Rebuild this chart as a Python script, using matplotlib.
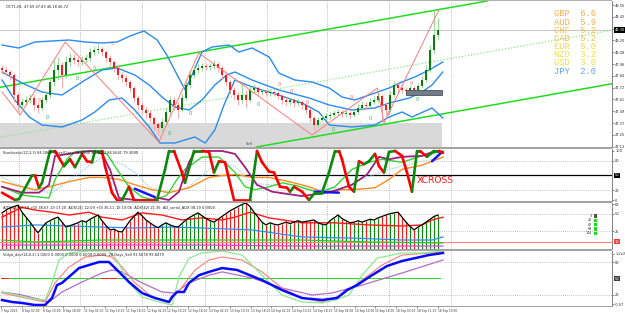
import numpy as np
import matplotlib
matplotlib.use('Agg')
import matplotlib.pyplot as plt
from matplotlib.patches import Rectangle
from matplotlib.collections import LineCollection
import matplotlib.transforms as mtransforms

# ---------------- DATA ----------------
first_open = 47.92
closes = [47.90, 47.88, 47.85, 47.65, 47.55, 47.58, 47.60, 47.62, 47.55, 47.52,
          47.60, 47.65, 47.78, 47.90, 47.95, 47.85, 47.98, 48.02, 48.00, 47.98,
          48.00, 48.02, 48.08, 48.10, 48.11, 48.08, 48.02, 47.98, 47.92, 47.85,
          47.82, 47.78, 47.72, 47.62, 47.55, 47.50, 47.47, 47.42, 47.36, 47.32,
          47.38, 47.48, 47.60, 47.55, 47.50, 47.62, 47.75, 47.85, 47.90, 47.92,
          47.94, 47.93, 47.94, 47.96, 47.92, 47.85, 47.78, 47.70, 47.65, 47.60,
          47.65, 47.60, 47.70, 47.72, 47.68, 47.68, 47.67, 47.68, 47.67, 47.64,
          47.60, 47.58, 47.60, 47.57, 47.58, 47.55, 47.50, 47.42, 47.35, 47.40,
          47.42, 47.44, 47.45, 47.47, 47.48, 47.46, 47.47, 47.45, 47.48, 47.52,
          47.55, 47.54, 47.58, 47.60, 47.64, 47.55, 47.50, 47.65, 47.75, 47.72,
          47.70, 47.69, 47.72, 47.70, 47.74, 47.80, 47.90, 48.10, 48.25, 48.30]
highs = [47.95, 47.93, 47.90, 47.87, 47.68, 47.62, 47.64, 47.66, 47.65, 47.58,
         47.63, 47.69, 47.82, 48.00, 48.03, 47.98, 48.04, 48.07, 48.06, 48.03,
         48.04, 48.06, 48.12, 48.14, 48.16, 48.13, 48.10, 48.05, 48.00, 47.95,
         47.88, 47.85, 47.80, 47.74, 47.65, 47.58, 47.53, 47.50, 47.44, 47.38,
         47.42, 47.52, 47.64, 47.63, 47.58, 47.66, 47.79, 47.89, 47.94, 47.96,
         47.97, 47.97, 47.97, 48.00, 47.98, 47.94, 47.87, 47.80, 47.73, 47.68,
         47.78, 47.70, 47.74, 47.76, 47.74, 47.71, 47.71, 47.71, 47.70, 47.69,
         47.66, 47.63, 47.63, 47.62, 47.61, 47.60, 47.57, 47.52, 47.44, 47.43,
         47.45, 47.47, 47.48, 47.50, 47.51, 47.50, 47.50, 47.49, 47.51, 47.56,
         47.59, 47.58, 47.62, 47.64, 47.68, 47.66, 47.58, 47.69, 47.79, 47.77,
         47.74, 47.73, 47.75, 47.74, 47.77, 47.84, 47.95, 48.15, 48.50, 48.42]
lows = [47.86, 47.84, 47.80, 47.58, 47.48, 47.51, 47.55, 47.57, 47.50, 47.47,
        47.50, 47.57, 47.62, 47.74, 47.80, 47.72, 47.82, 47.94, 47.96, 47.94,
        47.95, 47.97, 47.99, 48.05, 48.06, 48.04, 47.98, 47.94, 47.88, 47.81,
        47.78, 47.74, 47.68, 47.58, 47.50, 47.46, 47.42, 47.38, 47.30, 47.25,
        47.29, 47.35, 47.45, 47.50, 47.42, 47.48, 47.60, 47.72, 47.82, 47.87,
        47.89, 47.90, 47.90, 47.91, 47.88, 47.81, 47.74, 47.66, 47.60, 47.55,
        47.57, 47.52, 47.58, 47.67, 47.64, 47.65, 47.64, 47.64, 47.64, 47.61,
        47.56, 47.54, 47.55, 47.53, 47.54, 47.51, 47.46, 47.38, 47.30, 47.33,
        47.38, 47.40, 47.41, 47.43, 47.44, 47.43, 47.43, 47.42, 47.43, 47.46,
        47.50, 47.51, 47.52, 47.56, 47.58, 47.38, 47.45, 47.48, 47.63, 47.68,
        47.67, 47.66, 47.66, 47.67, 47.68, 47.72, 47.78, 47.88, 48.06, 48.20]

# Bollinger bands (time in bars, price)
bb_up_t = [0, 4.2, 8.2, 12.5, 16.8, 20.8, 25, 28.8, 32, 35.5, 38.8, 41.2, 43.8, 45.8, 47.5, 50,
           52.5, 56.8, 59.2, 62.5, 66.8, 69.2, 73.2, 77.5, 81.8, 85, 88.2, 91.8, 96.8, 100,
           103.2, 106.8, 110.2]
bb_up = [48.15, 48.12, 48.18, 48.19, 48.20, 48.18, 48.17, 48.18, 48.24, 48.29, 48.20, 48.05,
         47.85, 47.70, 47.85, 48.08, 48.13, 48.15, 48.08, 48.12, 48.03, 47.87, 47.80, 47.78,
         47.72, 47.63, 47.60, 47.65, 47.72, 47.78, 47.83, 47.90, 47.98]
bb_mid_t = [0, 5, 10, 15, 20.8, 25, 28.8, 33.2, 36.8, 40, 43.2, 46.8, 50, 53.2, 56.2, 58.2,
            62.5, 69.2, 76.8, 81.8, 87.5, 93.2, 96.8, 101.8, 105, 107.5, 110.2]
bb_mid = [47.88, 47.77, 47.68, 47.65, 47.80, 47.90, 47.92, 47.85, 47.75, 47.63, 47.53, 47.50,
          47.60, 47.75, 47.85, 47.88, 47.80, 47.70, 47.62, 47.55, 47.50, 47.52, 47.57, 47.62,
          47.68, 47.75, 47.88]
bb_lo_t = [0, 3.2, 6.8, 10, 15, 20, 23.2, 26.8, 30, 33.2, 36.8, 39.5, 43.2, 48.2, 50.8, 53.2,
           55.5, 58.2, 61.2, 65, 69.2, 75, 79.2, 81.8, 87.5, 93.2, 96.8, 100, 102.5, 107.5, 110.2]
bb_lo = [47.80, 47.60, 47.43, 47.35, 47.33, 47.40, 47.48, 47.60, 47.62, 47.50, 47.33, 47.17,
         47.17, 47.23, 47.17, 47.30, 47.55, 47.80, 47.75, 47.70, 47.65, 47.57, 47.48, 47.35,
         47.33, 47.35, 47.43, 47.48, 47.43, 47.52, 47.42]

# zigzag
zz_t = [0, 4.5, 15.8, 39.2, 49.2, 77.5, 93.8, 95.5, 109.2]
zz_p = [47.68, 47.45, 48.18, 47.18, 48.07, 47.25, 47.72, 47.37, 48.50]

# channel anchors (time, price)
chan_up = [(0, 47.73), (110, 48.51)]
chan_lo = [(65, 47.14), (110, 47.46)]
chan_mid = [(0, 47.23), (110, 48.00)]

zone_lo, zone_hi, zone_end = 47.13, 47.37, 110
box_t0, box_t1, box_lo, box_hi = 101, 110, 47.65, 47.70
bid_price = 48.30

fract_g_t = [11.2, 18.8, 23, 41.8, 47, 64, 82.8, 92, 96.5, 103.8]
fract_g_p = [47.43, 47.82, 47.92, 47.27, 47.47, 47.56, 47.31, 47.42, 47.47, 47.61]
fract_r_t = [9.2, 27.5, 69.2, 72.2, 76.2, 87.2, 102.2]
fract_r_p = [47.60, 48.17, 47.76, 47.69, 47.58, 47.63, 47.77]

currencies = ['GBP', 'AUD', 'CHF', 'CAD', 'EUR', 'NZD', 'USD', 'JPY']
strength = [6.6, 5.9, 5.2, 5.2, 5.0, 3.2, 3.0, 2.0]

# Stochastic pane
st_t = [0, 3.25, 4.25, 7.5, 8.25, 9.25, 10, 12, 13.25, 15.5, 17, 18.25, 20, 21.25, 22.5, 23.25,
        25, 25.75, 27.5, 28.75, 30, 31.75, 33, 35, 36.75, 38.75, 40.75, 41.75, 43, 45, 45.75,
        48, 50, 51.75, 53, 54.25, 55.75, 58, 60.75, 62, 63.75, 65, 66.75, 68, 69.5, 71.25, 72,
        73, 75, 76.75, 78.25, 80, 81.75, 83.25, 84.25, 85, 86.75, 88, 89.25, 90.5, 91.75,
        93.25, 94.25, 95.5, 96.75, 98.25, 100, 101.25, 102.5, 103.75, 104.5, 106.25, 108,
        109.25, 110.25]
st_main = [15, 0, 2, 50, 50, 25, 35, 100, 100, 69, 83, 67, 94, 79, 77, 100, 100, 69, 15, 0, 0,
           27, 0, 0, 0, 0, 62, 100, 100, 56, 35, 100, 100, 98, 56, 79, 77, 0, 0, 0, 100, 77, 58,
           56, 27, 25, 17, 27, 17, 0, 15, 15, 56, 100, 100, 83, 27, 17, 79, 73, 79, 94, 69, 56,
           98, 100, 90, 56, 17, 100, 100, 88, 100, 100, 96]
mag_t = [0, 5, 9.25, 11.75, 13.25, 16.75, 20, 22.5, 25, 27, 29.25, 33.25, 37.5, 39.25, 41.75,
         44.25, 46.75, 48.25, 51.75, 55, 58.25, 60.75, 63.75, 67.5, 75, 82.5, 87.5, 91.25,
         94.25, 96.75, 100, 105, 108.25, 110.25]
mag_v = [27, 15, 15, 31, 90, 94, 98, 100, 94, 62, 4, 0, 0, 4, 0, 17, 77, 98, 100, 100, 94, 67,
         31, 17, 8, 17, 31, 52, 88, 83, 88, 90, 100, 98]
blue_seg_t = [[33.2, 38.2], [78.2, 84.2], [107.5, 110]]
blue_seg_v = [[23, 6], [17, 15], [79, 98]]
orn_t = [0, 5, 8.25, 11.75, 16.75, 21.75, 25, 29.25, 33.25, 37.5, 41.75, 46.75, 51.75, 55,
         58.75, 62.5, 66.75, 71.75, 76.75, 80, 85, 87.5, 93.25, 96.75, 100, 105, 107.5, 110.25]
orn_v = [37.5, 27, 21, 27, 37.5, 46, 46, 42, 31, 21, 15, 25, 46, 50, 52, 46, 46, 37.5, 27, 17,
         21, 21, 25, 42, 62.5, 71, 79, 87.5]
grn_t = [0, 5, 11.75, 13.25, 16.25, 18.25, 20, 23.25, 26.25, 28.75, 31.75, 35, 38.25, 41.25,
         43.75, 45.75, 50, 54.25, 58.25, 60.75, 63.25, 66.75, 70, 73.75, 76.75, 79.25, 83.25,
         87.5, 91.75, 95, 100, 105, 110.25]
grn_v = [27, 10, 4, 42, 83.6, 98, 100, 100, 94, 62.5, 27, 6, 0, 10, 42, 62.5, 87.5, 87.5, 56,
         27, 21, 27, 35, 29, 21, 15, 27, 62.5, 77, 83, 77, 90, 100]
lb_t = [0, 6.75, 12.5, 18.75, 25, 30, 33.25, 36.75, 41.75, 46.75, 51.75, 55, 58.25, 62.5,
        70.75, 79.25, 85, 91.75, 96.75, 105, 110.25]
lb_v = [46, 21, 15, 52, 87.5, 73, 56, 27, 15, 27, 62.5, 77, 69, 35, 27, 21, 25, 48, 62.5, 79,
        87.5]

# ADX pane
hist = [51, 55, 58, 60, 62, 52, 45, 38, 30, 23, 30, 37, 40, 43, 45, 38, 31, 33, 35, 37,
        40, 38, 42, 45, 48, 40, 33, 27, 28, 25, 24, 32, 40, 46, 52, 47, 41, 37, 33, 30,
        34, 37, 34, 32, 31, 36, 41, 45, 48, 51, 47, 43, 40, 38, 42, 46, 50, 54, 57, 60,
        63, 65, 60, 52, 45, 38, 34, 37, 35, 34, 36, 38, 36, 38, 40, 38, 39, 40, 41, 37,
        35, 34, 40, 44, 48, 43, 40, 37, 38, 40, 38, 40, 42, 41, 44, 46, 48, 50, 51, 52,
        45, 38, 32, 27, 31, 34, 38, 42, 46, 48]
adx_red_t = [0, 2.5, 5, 8.25, 12.5, 16.75, 21.75, 25, 30, 35, 40, 45, 50, 55, 58.25, 62,
             66.75, 75, 83.25, 91.75, 100, 105, 107.5, 110.25]
adx_red = [45, 52, 59, 55, 52, 48, 52, 45, 41, 51, 48, 41, 44, 41, 45, 52, 44, 37, 37, 34,
           32.5, 34, 41, 45]
adx_blue_t = [0, 8.25, 16.75, 25, 33.25, 41.75, 50, 62.5, 75, 87.5, 100, 107.5, 110.25]
adx_blue = [31, 34, 32.5, 31, 29.7, 31, 29.7, 27, 17, 15.5, 12.7, 12.7, 17]
adx_grn_t = [0, 8.25, 25, 41.75, 55, 75, 91.75, 110.25]
adx_grn = [12.7, 9.9, 12.7, 12.7, 12.7, 12.7, 9.9, 8.5]
adx_mag_t = [0, 50, 75, 110.25]
adx_mag = [5.6, 5.6, 4.2, 4.2]
adx_level = 10
adx_legend = ['3', '21', '42', '89', '144']

# Oscillator pane
os_blue_t = [0, 2.5, 5, 8.25, 10.75, 12.5, 13.75, 15, 16.75, 19.25, 21.75, 24.25, 26.75, 28,
             29.25, 31.75, 35, 38.25, 41.75, 42.5, 43.75, 45.5, 46.75, 49.25, 51.75, 55, 58.75,
             65, 70, 75, 80, 83.75, 86.25, 88.75, 92.5, 96.25, 100, 103.25, 106.75, 110.25]
os_blue = [10.9, 7.3, 5.5, 1.8, 1.8, 14.5, 38, 42, 53, 69, 74.5, 80, 80, 71, 62, 43.6, 23.6,
           14.5, 7.3, 16.4, 25.5, 25.5, 42, 56, 62, 69, 65.5, 47, 29, 14.5, 10.9, 14.5, 29, 38,
           56, 72.7, 81.8, 87, 92.7, 96.4]
os_lg_t = [0, 8.25, 10.75, 12.5, 14.25, 16.75, 21.75, 26.75, 28.75, 31.75, 35, 39.25, 42.5,
           44.25, 46.75, 50, 55, 60, 65, 70, 75, 80, 83.25, 86.75, 90, 93.75, 100, 105, 110.25]
os_lg = [25.5, 12.7, 10.9, 42, 83.6, 96.4, 100, 100, 83.6, 42, 16.4, 7.3, 1.8, 53, 87, 96.4,
         100, 92.7, 56, 20, 7.3, 5.5, 10.9, 20, 56, 87, 96.4, 96.4, 100]
os_lr_t = [0, 10.75, 13.25, 16.75, 20.75, 25, 27.5, 30, 33.25, 37.5, 41.75, 45, 48.25, 51.75,
           55, 60, 65, 70, 75, 80, 85, 90, 95, 100, 110.25]
os_lr = [23.6, 7.3, 42, 71, 89, 92.7, 89, 71, 42, 16.4, 7.3, 34.5, 65.5, 83.6, 89, 83.6, 62,
         32.7, 14.5, 7.3, 20, 47, 74.5, 92.7, 98]
os_pur_t = [0, 5, 10, 11.75, 15, 20, 25, 27.5, 30, 35, 40, 43.25, 46.75, 51.75, 55, 62.5, 70,
            77.5, 82.5, 90, 100, 110.25]
os_pur = [25.5, 20, 10.9, 7.3, 25.5, 43.6, 60, 65.5, 62, 42, 25.5, 23.6, 42, 56, 62, 51, 32.7,
          20, 23.6, 38, 60, 83.6]
os_signal_level = 50
os_signal_red = [0, 1, 25, 26, 27, 28]

time_labels = ['7 Sep 2023', '8 Sep 02:00', '8 Sep 10:00', '8 Sep 18:00', '11 Sep 02:00',
               '11 Sep 10:00', '11 Sep 18:00', '12 Sep 02:00', '12 Sep 10:00', '12 Sep 18:00',
               '13 Sep 02:00', '13 Sep 10:00', '13 Sep 18:00', '14 Sep 02:00', '14 Sep 10:00',
               '14 Sep 18:00', '15 Sep 02:00', '15 Sep 10:00', '15 Sep 18:00', '18 Sep 03:00',
               '18 Sep 11:00', '18 Sep 19:00']

# ---------------- FIGURE ----------------
W, H = 625, 313
fig = plt.figure(figsize=(6.25, 3.13), dpi=100)
fig.patch.set_facecolor('white')
XR = 612


def px_axes(y0, y1):
    return fig.add_axes([0, 1 - y1 / H, XR / W, (y1 - y0) / H])


ax1 = px_axes(1, 147)
ax2 = px_axes(149, 201)
ax3 = px_axes(203, 249)
ax4 = px_axes(251, 306)
axes = [ax1, ax2, ax3, ax4]

TS = 2.6
grid_t = [4.25, 19.5, 35, 50.75, 66.25, 81.25, 96.75, 112.25]
for ax in axes:
    ax.set_xlim(-0.5, 152.5)
    for s in ['top', 'left', 'bottom']:
        ax.spines[s].set_visible(False)
    ax.spines['right'].set_color('#707070')
    ax.spines['right'].set_linewidth(0.6)
    ax.yaxis.tick_right()
    ax.tick_params(axis='y', length=1.5, width=0.4, pad=0.8, labelsize=TS, colors='#303030')
    ax.tick_params(axis='x', bottom=False, labelbottom=False)
    for g in grid_t:
        ax.axvline(g, color='#a8a8a8', lw=0.6, ls=(0, (1, 1.5)), zorder=0)

# separators
for (a, b) in [(147, 149), (201, 203), (249, 251)]:
    fig.add_artist(Rectangle((0, 1 - b / H), XR / W, (b - a) / H, transform=fig.transFigure,
                             facecolor='#a4a4a4', edgecolor='none'))
fig.add_artist(Rectangle((0, 1 - 1 / H), XR / W, 1 / H, transform=fig.transFigure,
                         facecolor='#b0b0b0', edgecolor='none'))


def box_label(ax, y, txt, fc, tc='white'):
    tr = mtransforms.blended_transform_factory(ax.transAxes, ax.transData)
    ax.text(1.004, y, txt, transform=tr, ha='left', va='center', fontsize=TS, color=tc,
            bbox=dict(boxstyle='square,pad=0.15', fc=fc, ec='none'), zorder=10)


# ---- price pane ----
ax1.set_ylim(47.13, 48.59)
t = np.arange(len(closes))
c = np.array(closes)
o = np.array([first_open] + closes[:-1])
hi = np.array(highs)
lo = np.array(lows)
up = c >= o
ax1.fill_between([-0.5, zone_end], zone_lo, zone_hi, color='#d9d9d9', lw=0, zorder=0.5)
ax1.axhline(bid_price, color='#bdbdbd', lw=0.6, zorder=0.6)
ax1.axline(chan_up[0], chan_up[1], color='#1fdc1f', lw=1.1, zorder=2)
ax1.axline(chan_lo[0], chan_lo[1], color='#1fdc1f', lw=1.1, zorder=2)
ax1.axline(chan_mid[0], chan_mid[1], color='#8be98b', lw=0.9, ls=(0, (1, 1.5)), zorder=2)
for bt, bv in [(bb_up_t, bb_up), (bb_mid_t, bb_mid), (bb_lo_t, bb_lo)]:
    ax1.plot(bt, bv, color='#2a8cf0', lw=1.0, zorder=2.2)
ax1.vlines(t[up], lo[up], hi[up], color='#86d486', lw=0.6, zorder=3)
ax1.vlines(t[~up], lo[~up], hi[~up], color='#ff9a9a', lw=0.6, zorder=3)
body_h = np.maximum(np.abs(c - o), 0.006)
ax1.bar(t[up], body_h[up], bottom=np.minimum(o, c)[up], width=0.55, color='#0a7d0a', zorder=3.2)
ax1.bar(t[~up], body_h[~up], bottom=np.minimum(o, c)[~up], width=0.55, color='#ff1a1a', zorder=3.2)
ax1.plot(zz_t, zz_p, color='#ff7b7b', lw=0.7, zorder=4)
ax1.add_patch(Rectangle((box_t0, box_lo), box_t1 - box_t0, box_hi - box_lo, facecolor='#6e7e8e',
                        edgecolor='#3c3c3c', lw=0.5, zorder=4))
for ft, fp in zip(fract_g_t, fract_g_p):
    ax1.text(ft, fp, '0', fontsize=3.6, color='#3cae5a', ha='center', va='center', zorder=5)
for ft, fp in zip(fract_r_t, fract_r_p):
    ax1.text(ft, fp, '0', fontsize=3.6, color='#ff6a6a', ha='center', va='center', zorder=5)
ax1.text(61.8, 47.16, 'Sell', fontsize=2.6, color='#404040', ha='center', va='center', zorder=5)
pticks = [48.55 - 0.118 * k for k in range(13)]
ax1.set_yticks(pticks)
ax1.set_yticklabels([f'{v:.2f}' for v in pticks])
box_label(ax1, bid_price, f'{bid_price:.2f}', 'black')
ax1.text(0.01, 0.975, 'OCT1,H1  47.69 47.83 46.18 46.72', transform=ax1.transAxes,
         fontsize=2.6, color='#202020', va='top', ha='left', zorder=6)

cur_cols = ['#f4ae52', '#f4ae52', '#f3c045', '#f3c045', '#f2d840', '#f2df45', '#f2df45', '#5aa6f2']
for k, (cn, sv) in enumerate(zip(currencies, strength)):
    fig.text(554 / W, 1 - (14 + 8.15 * k) / H, f'{cn}  {sv:.1f}', fontsize=6.3,
             family='Liberation Mono', color=cur_cols[k], va='center', ha='left')

# ---- stochastic pane ----
ax2.set_ylim(-2, 104)
ax2.axhline(80, color='#b0b0b0', lw=0.6, ls=(0, (1, 1.5)), zorder=0)
ax2.axhline(20, color='#b0b0b0', lw=0.6, ls=(0, (1, 1.5)), zorder=0)
ax2.axhline(50, color='black', lw=0.9, zorder=1)
ax2.plot(lb_t, lb_v, color='#9fd0f5', lw=0.9, ls=(0, (1, 1)), zorder=1.5)
ax2.plot(orn_t, orn_v, color='#ff8c1a', lw=1.0, zorder=2)
ax2.plot(grn_t, grn_v, color='#33d633', lw=1.0, zorder=2)
ax2.plot(mag_t, mag_v, color='#a0207a', lw=1.3, zorder=2.2)
for bt, bv in zip(blue_seg_t, blue_seg_v):
    ax2.plot(bt, bv, color='#1414ff', lw=1.8, zorder=2.4, solid_capstyle='round')
segs, cols = [], []
prev = '#0a8a0a'
for k in range(len(st_t) - 1):
    segs.append([(st_t[k], st_main[k]), (st_t[k + 1], st_main[k + 1])])
    d = st_main[k + 1] - st_main[k]
    if d > 0:
        prev = '#0a8a0a'
    elif d < 0:
        prev = '#ff0000'
    cols.append(prev)
ax2.add_collection(LineCollection(segs, colors=cols, linewidths=1.9, capstyle='round',
                                  joinstyle='round', zorder=3))
ax2.text(103.75, 39.6, 'XCROSS', color='#ff1a1a', fontsize=6.6, ha='left', va='center', zorder=5)
ax2.set_yticks([100, 80, 20, 0])
ax2.set_yticklabels(['100', '80', '20', '0'])
box_label(ax2, 50, '50', 'black')
ax2.text(0.005, 0.955, 'Stochastic(22,3,3) 84.1864 Close/Close 74.0000 80.1022 86.5641 79.3080',
         transform=ax2.transAxes, fontsize=2.6, color='#202020', va='top', ha='left', zorder=6)

# ---- ADX pane ----
ax3.set_ylim(0, 65)
ax3.axhline(50, color='#b0b0b0', lw=0.6, ls=(0, (1, 1.5)), zorder=0)
ax3.axhline(25, color='#b0b0b0', lw=0.6, ls=(0, (1, 1.5)), zorder=0)
hv = np.array(hist)
ax3.vlines(t[up], 0, hv[up], color='#0a8a0a', lw=0.8, zorder=1)
ax3.vlines(t[~up], 0, hv[~up], color='#ff1a1a', lw=0.8, zorder=1)
ax3.axhline(adx_level, color='#ff8080', lw=0.8, zorder=1.5)
ax3.plot(adx_mag_t, adx_mag, color='#e040e0', lw=0.9, zorder=2)
ax3.plot(adx_grn_t, adx_grn, color='#22cc22', lw=0.9, zorder=2)
ax3.plot(adx_blue_t, adx_blue, color='#2a8cf0', lw=0.9, zorder=2)
ax3.plot(adx_red_t, adx_red, color='#ff1a1a', lw=1.0, zorder=2.2)
ax3.plot(t, hv, color='black', lw=0.9, zorder=2.5)
ax3.set_yticks([63, 50, 25])
ax3.set_yticklabels(['63', '50', '25'])
box_label(ax3, adx_level, '10', '#ff3a3a')
ax3.text(0.005, 0.95, 'ADX(14) 26.18 +DI 38.67 -DI 17.20  ADX(21) 22.09 +DI 35.11 -DI 19.06  '
         'ADX(42) 21.35  AD_serial_ADX 38.19 0.0000',
         transform=ax3.transAxes, fontsize=2.6, color='#202020', va='top', ha='left', zorder=6)
for k, lab in enumerate(adx_legend):
    yy = 216 + 4.3 * k
    fig.text(592 / W, 1 - yy / H, lab, fontsize=2.4, color='#303030', ha='right', va='center')
    fig.add_artist(Rectangle((593.5 / W, 1 - (yy + 1.6) / H), 3.2 / W, 3.2 / H,
                             transform=fig.transFigure,
                             facecolor='#505050' if k == 0 else '#14e014', edgecolor='none'))

# ---- oscillator pane ----
ax4.set_ylim(0, 100)
ax4.axhline(80, color='#b0b0b0', lw=0.6, ls=(0, (1, 1.5)), zorder=0)
ax4.axhline(20, color='#b0b0b0', lw=0.6, ls=(0, (1, 1.5)), zorder=0)
sig_col = ['#ff2020' if i in os_signal_red else '#22dd22' for i in t]
ax4.scatter(t, np.full(len(t), os_signal_level), s=1.1, marker='s', c=sig_col, lw=0, zorder=1.5)
ax4.scatter(t + 0.5, np.full(len(t), os_signal_level), s=1.1, marker='s', c=sig_col, lw=0,
            zorder=1.5)
ax4.plot(os_pur_t, os_pur, color='#b46cc8', lw=0.9, zorder=2)
ax4.plot(os_lr_t, os_lr, color='#f58a8a', lw=0.9, zorder=2)
ax4.plot(os_lg_t, os_lg, color='#8ee88e', lw=0.9, zorder=2)
ax4.plot(os_blue_t, os_blue, color='#0a0aff', lw=1.8, zorder=3)
ax4.set_yticks([95, 80, 20, 3])
ax4.set_yticklabels(['1.2e2', '80', '20', '-0.07'])
box_label(ax4, os_signal_level, '50', '#404040')
ax4.text(0.005, 0.96, 'Vidya_dev(14,0.2) 1.0000 0.0000 0.0000 0.0000 0.0000  28 Days_Sell 91.5678 99.8479',
         transform=ax4.transAxes, fontsize=2.6, color='#202020', va='top', ha='left', zorder=6)
ax4.spines['bottom'].set_visible(True)
ax4.spines['bottom'].set_color('#909090')
ax4.spines['bottom'].set_linewidth(0.6)
tick_pos = [(1 + 20.8 * k - 2) / 4 for k in range(len(time_labels))]
ax4.set_xticks(tick_pos)
ax4.set_xticklabels(time_labels)
ax4.tick_params(axis='x', bottom=True, labelbottom=True, length=1.5, width=0.4, pad=0.5,
                labelsize=2.1, colors='#303030')
for lbl in ax4.get_xticklabels():
    lbl.set_ha('left')

fig.savefig('out.png', dpi=100, facecolor='white')
